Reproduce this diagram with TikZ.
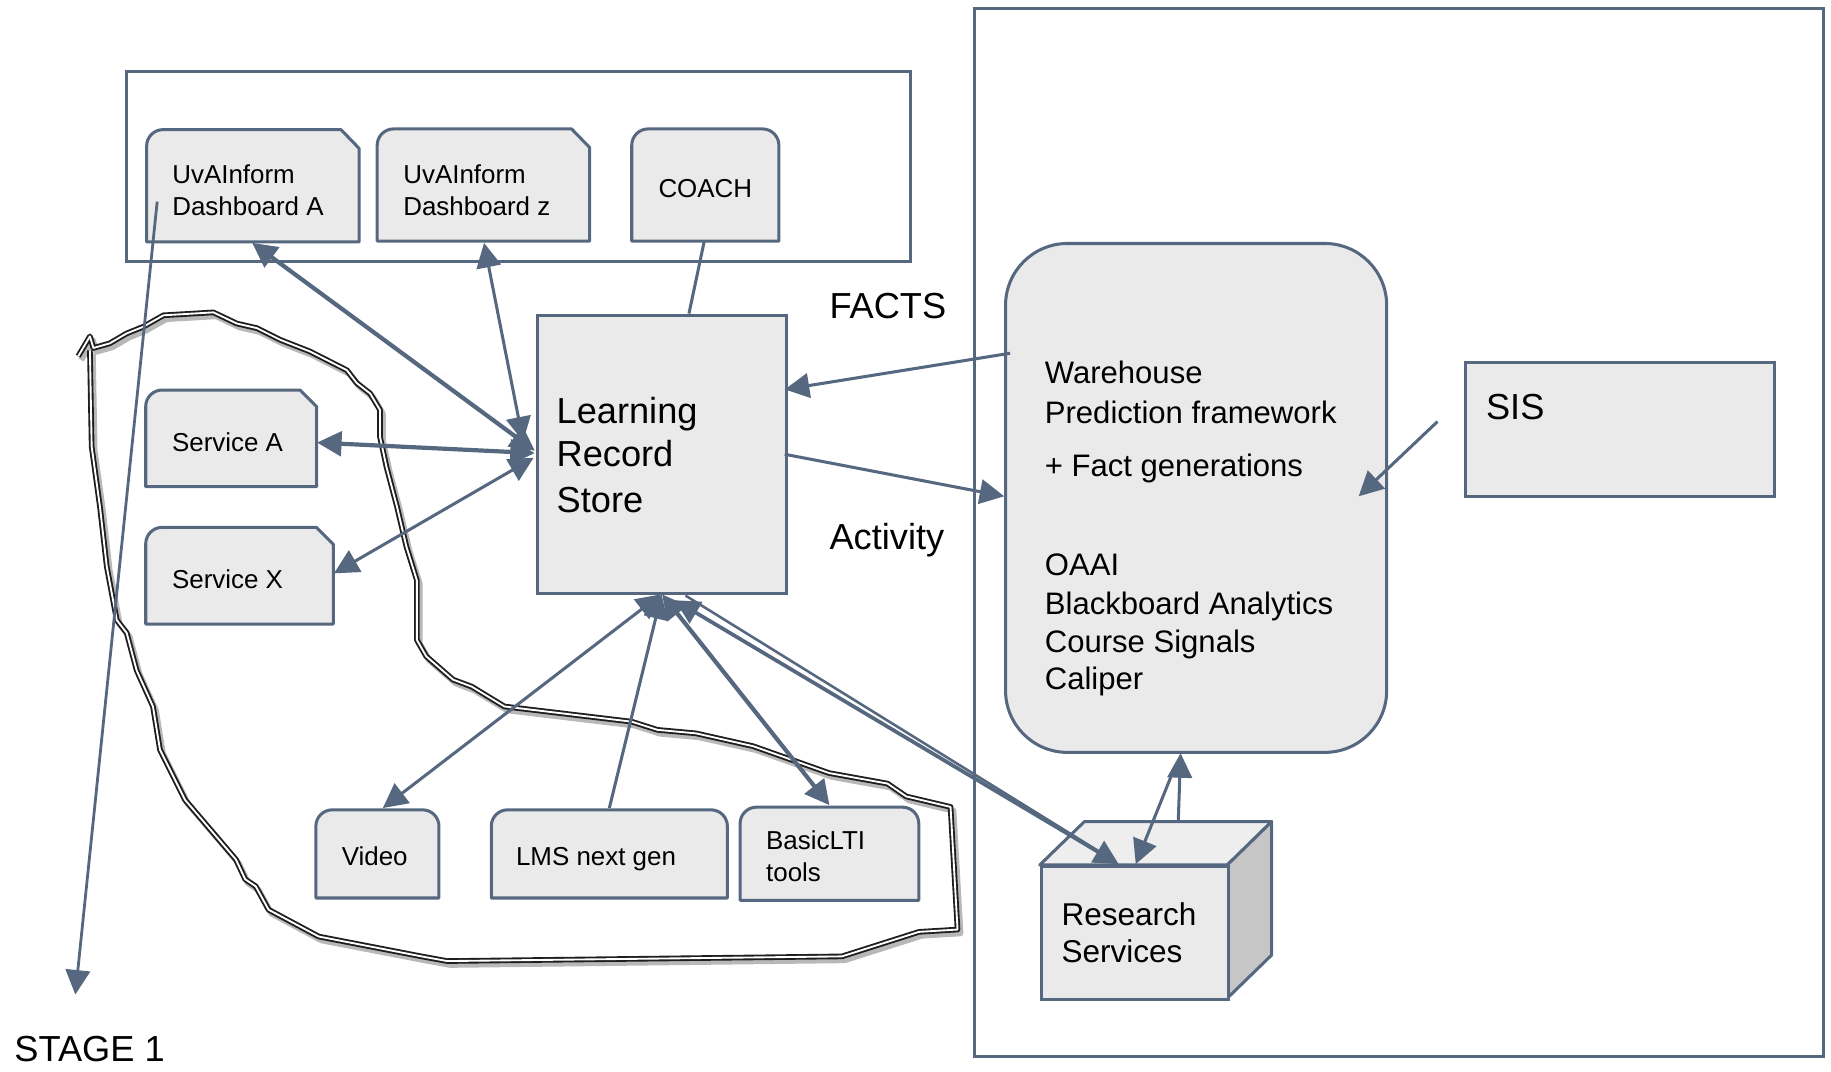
\documentclass[tikz,border=0pt]{standalone}
\usepackage{fontspec}
\setmainfont{Liberation Sans}
\usetikzlibrary{arrows.meta}
\definecolor{edge}{RGB}{86,104,128}
\definecolor{boxfill}{RGB}{234,234,234}
\definecolor{topfill}{RGB}{238,238,238}
\definecolor{sidefill}{RGB}{198,198,198}
\definecolor{loopc}{RGB}{30,30,30}
\begin{document}
\begin{tikzpicture}[x=0.5pt,y=-0.5pt,
  >={Triangle[length=10.5pt,width=10.5pt]},
  frame/.style={draw=edge, line width=1.3pt},
  shapebox/.style={draw=edge, fill=boxfill, line width=1.3pt, line join=round},
  rectnode/.style={draw=edge, fill=boxfill, line width=1.3pt, inner sep=0pt, anchor=north west},
  conn/.style={draw=edge, line width=1.3pt},
  heavy/.style={line width=1.8pt},
  txt/.style={inner sep=0pt, anchor=base west, text=black},
  small/.style={font=\fontsize{11.1pt}{13pt}\selectfont},
  big/.style={font=\fontsize{15.5pt}{18pt}\selectfont},
  mid/.style={font=\fontsize{13.3pt}{16pt}\selectfont},
  looppath/.style={draw=loopc, double=white, line width=0.8pt, double distance=0.8pt, line join=round},
  loopshadow/.style={draw=black!28, line width=2.6pt, line join=round}
]
\useasboundingbox (0,0) rectangle (1568,918);

% frames
\draw[frame] (108.5,61) rectangle (779.7,224.2);
\draw[frame] (834.4,7.4) rectangle (1561.8,904.5);

% snipped cards
\draw[shapebox] (125.6,207.2) -- (125.6,125) arc[start angle=180,end angle=90,radius=7pt] -- (292,111) -- (307.5,127) -- (307.5,207.2) -- cycle;
\draw[shapebox] (323,206.5) -- (323,124.4) arc[start angle=180,end angle=90,radius=7pt] -- (489.5,110.4) -- (505,126.4) -- (505,206.5) -- cycle;
\draw[shapebox] (124.8,416.8) -- (124.8,348) arc[start angle=180,end angle=90,radius=7pt] -- (257,334) -- (271.2,348.3) -- (271.2,416.8) -- cycle;
\draw[shapebox] (124.8,534.4) -- (124.8,465.6) arc[start angle=180,end angle=90,radius=7pt] -- (271,451.6) -- (285.4,466) -- (285.4,534.4) -- cycle;

% rounded-top cards
\draw[shapebox] (541,206.5) -- (541,124.4) arc[start angle=180,end angle=90,radius=7pt] -- (653,110.4) arc[start angle=90,end angle=0,radius=7pt] -- (667,206.5) -- cycle;
\draw[shapebox] (270.5,769) -- (270.5,707.5) arc[start angle=180,end angle=90,radius=7pt] -- (361.9,693.5) arc[start angle=90,end angle=0,radius=7pt] -- (375.9,769) -- cycle;
\draw[shapebox] (420.7,769) -- (420.7,707.5) arc[start angle=180,end angle=90,radius=7pt] -- (608.9,693.5) arc[start angle=90,end angle=0,radius=7pt] -- (622.9,769) -- cycle;
\draw[shapebox] (633.8,771) -- (633.8,705.2) arc[start angle=180,end angle=90,radius=7pt] -- (772.8,691.2) arc[start angle=90,end angle=0,radius=7pt] -- (786.8,771) -- cycle;

% main nodes
\node[rectnode, minimum width=106.5pt, minimum height=119.2pt] (lrs) at (459,268.8) {};
\node[rectnode, rounded corners=26.5pt, minimum width=163.2pt, minimum height=217.9pt] (wh) at (859.8,207.2) {};
\node[rectnode, minimum width=132.3pt, minimum height=57.6pt] (sis) at (1253.9,308.8) {};

% research services cube
\draw[shapebox, fill=topfill] (890.4,740.7) -- (928.6,703.6) -- (1089,703.6) -- (1051,740.7) -- cycle;
\draw[shapebox, fill=sidefill] (1051,740.7) -- (1089,703.6) -- (1089,817.8) -- (1051,854.8) -- cycle;
\node[rectnode, minimum width=80.3pt, minimum height=57.05pt] (rs) at (890.4,740.7) {};

% texts
\node[txt, small] (tA1) at (147.2,157.4) {UvAInform};
\node[txt, small] (tA2) at (147.2,184.5) {Dashboard A};
\node[txt, small] (tZ1) at (345,157.2) {UvAInform};
\node[txt, small] (tZ2) at (345,184.3) {Dashboard z};
\node[txt, small, anchor=base] (tC) at (604,169.3) {COACH};
\node[txt, small] (tSA) at (147,386.8) {Service A};
\node[txt, small] (tSX) at (147,503.8) {Service X};
\node[txt, small] (tV) at (292.3,741.4) {Video};
\node[txt, small] (tL) at (441.5,741.4) {LMS next gen};
\node[txt, small] (tB1) at (655.7,727.7) {BasicLTI};
\node[txt, small] (tB2) at (655.7,754.8) {tools};
\node[txt, big] (tL1) at (476.3,362.3) {Learning};
\node[txt, big] (tL2) at (476.3,399.5) {Record};
\node[txt, big] (tL3) at (476.3,438.5) {Store};
\node[txt, big] (tF) at (710,272.6) {FACTS};
\node[txt, big] (tAc) at (710,470.7) {Activity};
\node[txt, big] (tS) at (1272.2,359.6) {SIS};
\node[txt, big] (tSt) at (12,908.8) {STAGE 1};
\node[txt, mid] (w1) at (894.4,328.4) {Warehouse};
\node[txt, mid] (w2) at (894.4,362.3) {Prediction framework};
\node[txt, mid] (w3) at (894.4,408) {+ Fact generations};
\node[txt, mid] (w4) at (894.4,492.7) {OAAI};
\node[txt, mid] (w5) at (894.4,526.5) {Blackboard Analytics};
\node[txt, mid] (w6) at (894.4,558.5) {Course Signals};
\node[txt, mid] (w7) at (894.4,590.5) {Caliper};
\node[txt, mid, font=\fontsize{13.5pt}{16pt}\selectfont] (r1) at (908.7,792.7) {Research};
\node[txt, mid, font=\fontsize{13.5pt}{16pt}\selectfont] (r2) at (908.7,824.2) {Services};

% connector end points
\coordinate (dAb) at (216,208);
\coordinate (dZb) at (414.5,208);
\coordinate (coachB) at (603,207);
\coordinate (sAr) at (271.5,379);
\coordinate (sXr) at (286,491);
\coordinate (lrsA) at (458,386);
\coordinate (lrsZ) at (448,378);
\coordinate (lrsT) at (590,268.5);
\coordinate (lrsSA) at (458,388);
\coordinate (lrsSX) at (457,392);
\coordinate (lrsW) at (672,333.5);
\coordinate (lrsE) at (672,389);
\coordinate (whL1) at (865,302.5);
\coordinate (whL2) at (860,425);
\coordinate (sisL) at (1231,361);
\coordinate (whR) at (1163.5,425);
\coordinate (lrsB1) at (566,509);
\coordinate (lrsB2) at (566.5,509);
\coordinate (lrsB3) at (567,509);
\coordinate (lrsB4) at (578,514);
\coordinate (lrsB5) at (587,510);
\coordinate (vidT) at (327.8,692);
\coordinate (lmsT) at (521.8,692);
\coordinate (bltT) at (710.3,689.5);
\coordinate (rsT1) at (958,740);
\coordinate (rsT1b) at (945,731.5);
\coordinate (rsT2) at (972.6,740);
\coordinate (rsTop) at (1009,704);
\coordinate (whB) at (1011,645);
\coordinate (whB2) at (1004,662);
\coordinate (dAin) at (134.6,172.7);
\coordinate (stage) at (64.5,851.7);

% loop (hand-drawn outline)
\def\looppts{(67,305) -- (77,288) -- (80,298) -- (94,294) -- (108.5,285.5) -- (122.7,279.8) -- (140,270) -- (182.7,267.5) -- (202.7,277) -- (220,281) -- (240,291) -- (265.5,301) -- (297,317) -- (305.5,328) -- (317,337) -- (325.4,351) -- (325.4,374) -- (331,400) -- (340,434) -- (348,468) -- (357,497) -- (357,548) -- (365,562) -- (388,582) -- (404,588) -- (432,605) -- (541,618) -- (563,625) -- (596,628) -- (645,639) -- (710,662) -- (760,671) -- (776,682) -- (814,691) -- (820,796) -- (787,798) -- (721,819) -- (383,823) -- (361,819) -- (273,802) -- (230,779) -- (219,759) -- (210,753) -- (202,736) -- (158.5,685) -- (137,642) -- (131,605) -- (117,574) -- (108.5,542) -- (100,531) -- (91.4,485) -- (85.6,434) -- (78.5,382.5) -- (77,300)}
\draw[loopshadow, xshift=1.2pt, yshift=-1.6pt] \looppts;
\draw[looppath] \looppts;

% connectors
\draw[conn, heavy, <->] (dAb) -- (lrsA);
\draw[conn, <->] (dZb) -- (lrsZ);
\draw[conn] (coachB) -- (lrsT);
\draw[conn, heavy, <->] (sAr) -- (lrsSA);
\draw[conn, <->] (sXr) -- (lrsSX);
\draw[conn, ->] (whL1) -- (lrsW);
\draw[conn, ->] (lrsE) -- (whL2);
\draw[conn, ->] (sisL) -- (whR);
\draw[conn, <->] (lrsB1) -- (vidT);
\draw[conn, ->] (lmsT) -- (lrsB2);
\draw[conn, heavy, <->] (lrsB3) -- (bltT);
\draw[conn, line width=1.6pt, <->] (lrsB4) -- (rsT1);
\draw[conn, line width=1.1pt] (lrsB5) -- (rsT1b);
\draw[conn, ->] (rsTop) -- (whB);
\draw[conn, ->] (whB2) -- (rsT2);
\draw[conn, line width=1.2pt, ->] (dAin) -- (stage);
\end{tikzpicture}
\end{document}
